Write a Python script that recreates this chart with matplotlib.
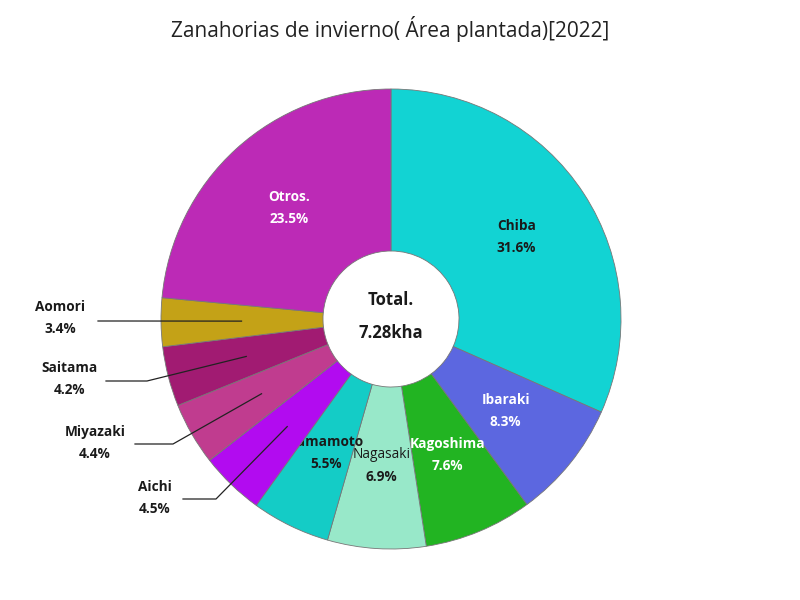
import matplotlib
matplotlib.use('Agg')
import matplotlib.pyplot as plt
import numpy as np

plt.rcParams['font.family'] = ['Open Sans', 'DejaVu Sans']

# data
regions = ['Chiba', 'Ibaraki', 'Kagoshima', 'Nagasaki', 'Kumamoto',
           'Aichi', 'Miyazaki', 'Saitama', 'Aomori', 'Otros.']
shares = [31.6, 8.3, 7.6, 6.9, 5.5, 4.5, 4.4, 4.2, 3.4, 23.5]
total_label = '7.28kha'
title = 'Zanahorias de invierno( Área plantada)[2022]'

colors = ['#12D3D3', '#5C67E0', '#22B422', '#98E8C9', '#14CCC6',
          '#B20BF0', '#C03C8F', '#A11B72', '#C4A217', '#BC2AB6']
text_colors = ['#1a1a1a', 'white', 'white', '#1a1a1a', '#1a1a1a',
               '#1a1a1a', '#1a1a1a', '#1a1a1a', '#1a1a1a', 'white']

# layout (pixels, y up)
W, H = 800, 600
cx, cy = 391, 600 - 319
R = 230
hole = 68
fs = 9.8
inside_r = {'Chiba': 0.65, 'Ibaraki': 0.64, 'Kagoshima': 0.64, 'Nagasaki': 0.64,
            'Kumamoto': 0.65, 'Otros.': 0.655}
# outside labels: text centre (x, y of name), elbow points
outside = {
    'Aomori':   ((60, 307), [(98, 321), (120, 321)]),
    'Saitama':  ((70, 368), [(106, 381), (147, 381)]),
    'Miyazaki': ((95, 432), [(135, 444), (173, 444)]),
    'Aichi':    ((155, 487), [(183, 499), (216, 499)]),
}

fig = plt.figure(figsize=(8, 6), dpi=100)
ax = fig.add_axes([0, 0, 1, 1])

wedges, _ = ax.pie(shares, colors=colors, startangle=90, counterclock=False,
                   radius=R, center=(cx, cy),
                   wedgeprops=dict(width=R - hole, edgecolor='#777777', linewidth=0.6))
ax.set_xlim(0, W)
ax.set_ylim(0, H)
ax.set_aspect('equal')
ax.axis('off')

# the Kumamoto name sits partly under the Aichi slice, as in the original
for w in wedges[regions.index('Aichi'):]:
    w.set_zorder(2)

total = sum(shares)
cum = 0
for i, (name, s) in enumerate(zip(regions, shares)):
    mid = 90 - 360 * (cum + s / 2) / total
    cum += s
    ux, uy = np.cos(np.radians(mid)), np.sin(np.radians(mid))
    pct = f'{s:.1f}%'
    if name in inside_r:
        r = inside_r[name] * R
        tx, ty = cx + r * ux, cy + r * uy
        w = 'normal' if name == 'Nagasaki' else 'bold'
        z = 1.5 if name == 'Kumamoto' else 4
        ax.text(tx, ty + 11, name, ha='center', va='center', fontsize=fs,
                fontweight=w, color=text_colors[i], zorder=z)
        ax.text(tx, ty - 11, pct, ha='center', va='center', fontsize=fs,
                fontweight='bold', color=text_colors[i], zorder=4)
    else:
        (lx, ly), elbow = outside[name]
        px, py = cx + 0.65 * R * ux, cy + 0.65 * R * uy
        xs = [p[0] for p in elbow] + [px]
        ys = [H - p[1] for p in elbow] + [py]
        ax.plot(xs, ys, color='#222222', lw=0.9, zorder=4)
        ax.text(lx, H - ly, name, ha='center', va='center', fontsize=fs,
                fontweight='bold', color=text_colors[i])
        ax.text(lx, H - ly - 22, pct, ha='center', va='center', fontsize=fs,
                fontweight='bold', color=text_colors[i])

ax.text(cx, cy + 19, 'Total.', ha='center', va='center', fontsize=12,
        fontweight='bold', color='#1a1a1a')
ax.text(cx, cy - 14, total_label, ha='center', va='center', fontsize=12,
        fontweight='bold', color='#1a1a1a')

ax.text(390, H - 29, title, ha='center', va='center', fontsize=15, color='#222222')

fig.savefig('out.png', dpi=100)
